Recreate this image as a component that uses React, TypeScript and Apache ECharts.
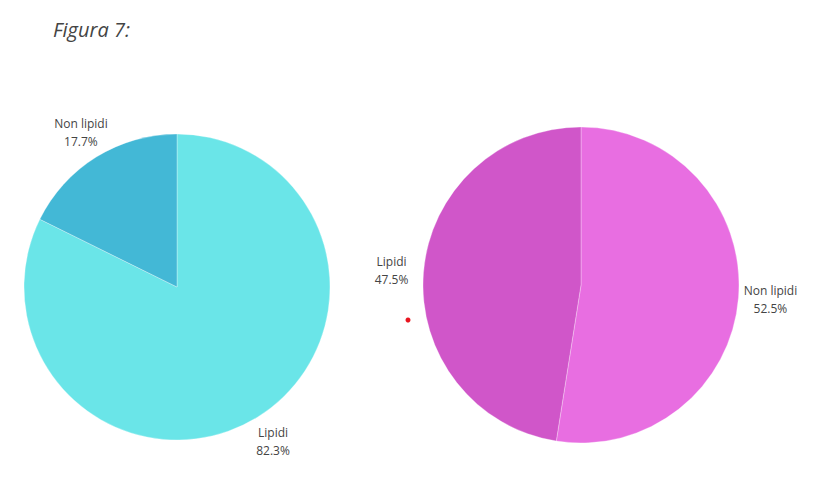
import React, { useEffect, useRef } from "react";
import * as echarts from "echarts";

const title = "Figura 7:";
const leftNames = ["Lipidi", "Non lipidi"];
const leftValues = [82.3, 17.7];
const leftColors = ["#6ae5e8", "#43b8d6"];
const rightNames = ["Non lipidi", "Lipidi"];
const rightValues = [52.5, 47.5];
const rightColors = ["#e86ee1", "#d056c9"];

function makeLabel(dist: number) {
  return {
    show: true,
    position: "outside" as const,
    fontFamily: "Open Sans",
    fontSize: 12,
    color: "#444",
    lineHeight: 18,
    distanceToLabelLine: dist,
    formatter: (p: any) => `${p.name}\n${p.percent.toFixed(1)}%`,
  };
}

function makeSeries(names: string[], values: number[], colors: string[], center: number[], radius: number, len: number, dist: number) {
  return {
    type: "pie",
    center,
    radius,
    startAngle: 90,
    clockwise: true,
    avoidLabelOverlap: false,
    percentPrecision: 1,
    label: makeLabel(dist),
    labelLine: { show: false, length: len, length2: 0 },
    labelLayout: () => ({ align: "center", verticalAlign: "middle" }),
    itemStyle: { borderColor: "rgba(255,255,255,0.6)", borderWidth: 0.5 },
    emphasis: { disabled: true },
    data: names.map((n, i) => ({ name: n, value: values[i], itemStyle: { color: colors[i] } })),
  };
}

export default function App() {
  const ref = useRef<HTMLDivElement>(null);
  useEffect(() => {
    if (!ref.current) return;
    const chart = echarts.init(ref.current, undefined, { renderer: "svg" });
    chart.setOption({
      animation: false,
      backgroundColor: "#fff",
      title: {
        text: title,
        left: 48,
        top: 14,
        textStyle: { fontFamily: "Open Sans", fontStyle: "italic", fontWeight: "normal", fontSize: 20, color: "#444" },
      },
      graphic: [
        { type: "circle", shape: { cx: 408, cy: 320, r: 2.5 }, style: { fill: "#e8141e" } },
      ],
      series: [
        makeSeries(leftNames, leftValues, leftColors, [177, 287], 153, 29, 0),
        makeSeries(rightNames, rightValues, rightColors, [581, 285], 158, 27, 5),
      ],
    });
    return () => chart.dispose();
  }, []);
  return <div ref={ref} style={{ position: "fixed", left: 0, top: 0, width: 820, height: 498 }} />;
}
